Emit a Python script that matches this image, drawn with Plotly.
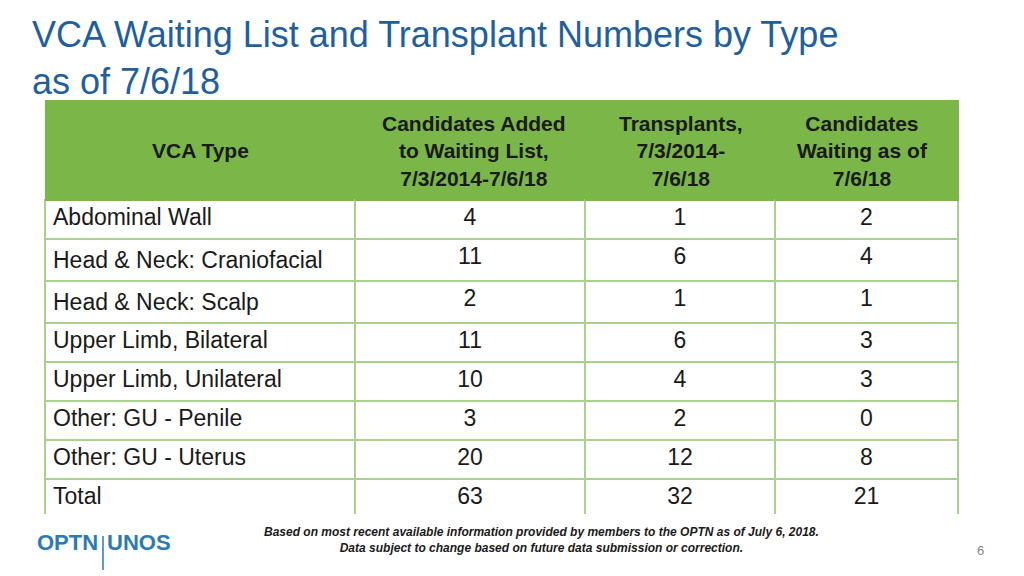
import plotly.graph_objects as go

header = ["VCA Type", "Candidates Added<br>to Waiting List,<br>7/3/2014-7/6/18",
          "Transplants,<br>7/3/2014-<br>7/6/18", "Candidates<br>Waiting as of<br>7/6/18"]
types = ["Abdominal Wall", "Head & Neck: Craniofacial", "Head & Neck: Scalp",
         "Upper Limb, Bilateral", "Upper Limb, Unilateral", "Other: GU - Penile",
         "Other: GU - Uterus", "Total"]
added = [4, 11, 2, 11, 10, 3, 20, 63]
transplants = [1, 6, 1, 6, 4, 2, 12, 32]
waiting = [2, 4, 1, 3, 3, 0, 8, 21]

W, H = 1024, 576
FONT = "Liberation Sans, Arial"
fig = go.Figure(go.Table(
    domain=dict(x=[37/W, 950/W], y=[1-506/H, 1-92/H]),
    columnwidth=[310, 230, 190, 183],
    header=dict(values=["", "", "", ""],
                fill_color="#7AB648", line=dict(color="#7AB648", width=1),
                font=dict(family=FONT, size=21, color="#1a1a1a"),
                align="center", height=100),
    cells=dict(values=[types, added, transplants, waiting],
               fill_color="white", line=dict(color="#A9D18E", width=1.5),
               font=dict(family=FONT, size=23, color="#1a1a1a"),
               align=["left", "center", "center", "center"], height=39),
))
centers = [192, 466, 673, 854]
for cx, h in zip(centers, header):
    fig.add_annotation(x=cx/W, y=1-143/H, xref="paper", yref="paper",
                       xanchor="center", yanchor="middle",
                       text="<b>%s</b>" % h, showarrow=False, align="center",
                       font=dict(family=FONT, size=21, color="#1a1a1a"))
fig.add_annotation(x=22/W, y=1-4/H, xref="paper", yref="paper", xanchor="left", yanchor="top",
                   text="VCA Waiting List and Transplant Numbers by Type<br>as of 7/6/18",
                   showarrow=False, align="left",
                   font=dict(family=FONT, size=36, color="#1F5FA0"))
fig.add_annotation(x=533/W, y=1-549/H, xref="paper", yref="paper",
                   text="<b><i>Based on most recent available information provided by members to the OPTN as of July 6, 2018.<br>Data subject to change based on future data submission or correction.</i></b>",
                   showarrow=False, align="center",
                   font=dict(family=FONT, size=12, color="#1a1a1a"))
fig.add_annotation(x=92/W, y=1-549/H, xref="paper", yref="paper", xanchor="right",
                   text="<b>OPTN</b>", showarrow=False,
                   font=dict(family=FONT, size=22, color="#2A7AB8"))
fig.add_annotation(x=97/W, y=1-549/H, xref="paper", yref="paper", xanchor="left",
                   text="<b>UNOS</b>", showarrow=False,
                   font=dict(family=FONT, size=22, color="#2A7AB8"))
fig.add_shape(type="line", xref="paper", yref="paper", x0=95/W, x1=95/W, y0=1-528/H, y1=1-562/H,
              line=dict(color="#2A7AB8", width=1.5))
fig.add_annotation(x=978/W, y=1-552/H, xref="paper", yref="paper",
                   text="6", showarrow=False,
                   font=dict(family=FONT, size=13, color="#888888"))
fig.update_layout(width=W, height=H, margin=dict(l=0, r=0, t=0, b=0),
                  paper_bgcolor="white", plot_bgcolor="white")
fig.write_html("out.html")
